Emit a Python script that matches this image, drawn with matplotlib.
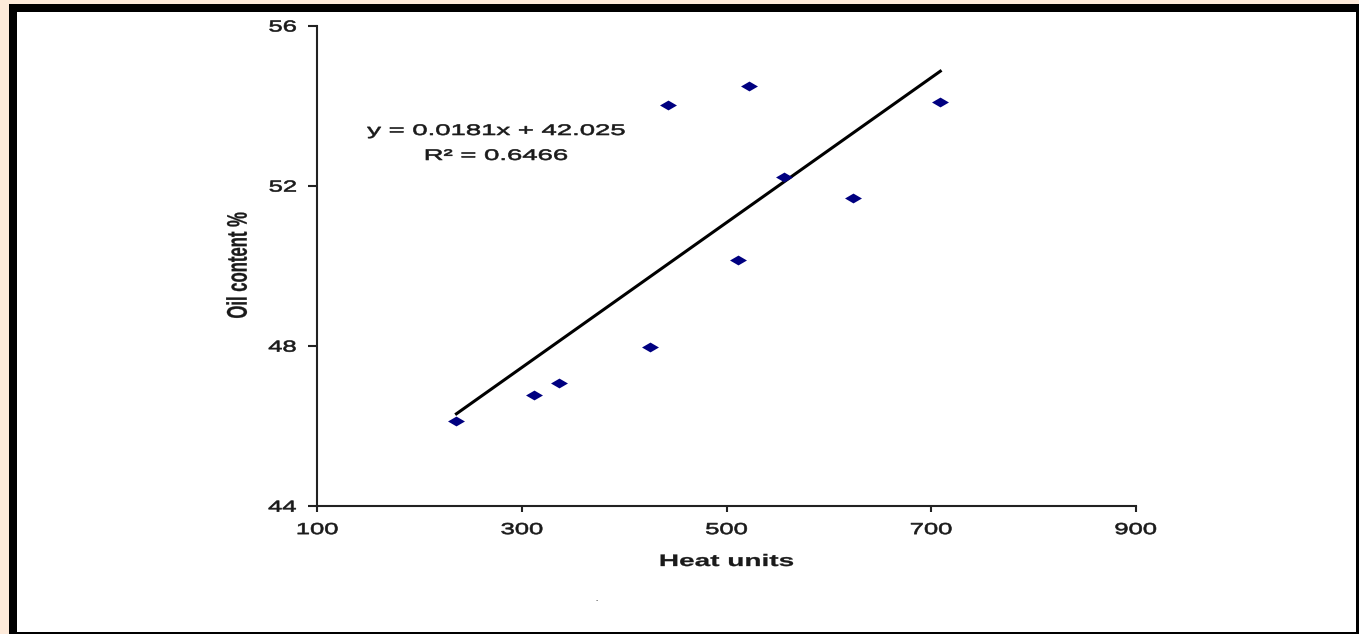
import numpy as np
import matplotlib
matplotlib.use("Agg")
import matplotlib.pyplot as plt
from matplotlib import patheffects
from matplotlib.transforms import Affine2D
from matplotlib.path import Path
from matplotlib.patches import Rectangle

# ---- data ----
heat_units = [236, 312, 336, 425, 443, 511, 522, 556, 624, 709]
oil_content = [46.12, 46.76, 47.06, 47.97, 54.01, 50.15, 54.49, 52.22, 51.70, 54.10]
slope = 0.0181
intercept = 42.025
r_squared = 0.6466
x_ticks = [100, 300, 500, 700, 900]
y_ticks = [44, 48, 52, 56]
x_label = "Heat units"
y_label = "Oil content %"

plt.rcParams['font.family'] = ['Liberation Sans', 'DejaVu Sans']


class HStretch(patheffects.AbstractPathEffect):
    """Widen glyphs horizontally (the reference image is stretched sideways)."""

    def __init__(self, sx=1.6, anchor='center', stroke=0.0):
        super().__init__()
        self.sx = sx
        self.anchor = anchor
        self.stroke = stroke

    def draw_path(self, renderer, gc, tpath, affine, rgbFace=None):
        if tpath.vertices.size == 0:
            return
        ext = affine.transform_path(tpath).get_extents()
        if self.anchor == 'left':
            cx = ext.x0
        elif self.anchor == 'right':
            cx = ext.x1
        else:
            cx = 0.5 * (ext.x0 + ext.x1)
        st = affine + Affine2D().translate(-cx, 0).scale(self.sx, 1).translate(cx, 0)
        gc0 = renderer.new_gc()
        gc0.copy_properties(gc)
        if self.stroke > 0 and rgbFace is not None:
            gc0.set_linewidth(self.stroke)
            gc0.set_foreground(rgbFace)
        renderer.draw_path(gc0, tpath, st, rgbFace)
        gc0.restore()


W, H = 1359, 634
fig = plt.figure(figsize=(W / 100, H / 100), dpi=100)
fig.patch.set_facecolor('#FDEADA')

# black frame and white panel (behind the axes)
fig.patches.append(Rectangle((9 / W, 0), 1 - 9 / W, (634 - 4) / H,
                             transform=fig.transFigure, facecolor='black',
                             edgecolor='none', zorder=-3))
fig.patches.append(Rectangle((17 / W, (634 - 632) / H), (1356 - 17) / W, (632 - 12) / H,
                             transform=fig.transFigure, facecolor='white',
                             edgecolor='none', zorder=-2))

ax_left, ax_right = 317.3, 1135.7
ax_top, ax_bottom = 25.5, 505.7
ax = fig.add_axes([ax_left / W, 1 - ax_bottom / H,
                   (ax_right - ax_left) / W, (ax_bottom - ax_top) / H])
ax.set_facecolor('none')
ax.set_zorder(1)

# diamond marker, wider than tall
diamond = Path([(-1, 0), (0, 0.58), (1, 0), (0, -0.58), (-1, 0)],
               [Path.MOVETO, Path.LINETO, Path.LINETO, Path.LINETO, Path.CLOSEPOLY])
ax.plot(heat_units, oil_content, linestyle='none', marker=diamond,
        markersize=12.2, markerfacecolor='#000080', markeredgewidth=0, zorder=3)

# linear trendline from the stated equation
xs = np.array([min(heat_units), max(heat_units)])
ax.plot(xs, slope * xs + intercept, color='black', linewidth=2.2, zorder=2)

ax.set_xlim(x_ticks[0], x_ticks[-1])
ax.set_ylim(y_ticks[0], y_ticks[-1])
ax.set_xticks(x_ticks)
ax.set_yticks(y_ticks)

for s in ('top', 'right'):
    ax.spines[s].set_visible(False)
for s in ('left', 'bottom'):
    ax.spines[s].set_color('#222222')
    ax.spines[s].set_linewidth(1.5)

ax.tick_params(axis='x', direction='out', length=4.3, width=1.5, color='#222222',
               pad=7.5, labelsize=11.5, labelcolor='#1a1a1a')
ax.tick_params(axis='y', direction='out', length=6.5, width=1.5, color='#222222',
               pad=8.5, labelsize=11.5, labelcolor='#1a1a1a')

for lab in ax.get_xticklabels():
    lab.set_path_effects([HStretch(1.6, 'center', 0.45)])
for lab in ax.get_yticklabels():
    lab.set_path_effects([HStretch(1.6, 'right', 0.45)])

ax.set_xlabel(x_label, fontsize=12, fontweight='bold', color='#1a1a1a')
ax.xaxis.set_label_coords(0.5, -0.1006)
ax.xaxis.label.set_path_effects([HStretch(1.68, 'center', 0.2)])

ax.set_ylabel(y_label, fontsize=12, fontweight='bold', color='#1a1a1a')
ax.yaxis.set_label_coords(-0.0877, 0.5)
ax.yaxis.label.set_path_effects([HStretch(1.7, 'center', 0.2)])

eq = ax.text(0.2184, 0.772, f"y = {slope}x + {intercept}", transform=ax.transAxes,
             ha='center', va='baseline', fontsize=11, color='#1a1a1a')
eq.set_path_effects([HStretch(1.8, 'center', 0.45)])
r2 = ax.text(0.2184, 0.720, f"R\u00b2 = {r_squared}", transform=ax.transAxes,
             ha='center', va='baseline', fontsize=11, color='#1a1a1a')
r2.set_path_effects([HStretch(1.8, 'center', 0.45)])

# small stray mark below the chart in the reference
fig.text(597 / W, 1 - 601 / H, "-", ha='center', va='center', fontsize=5, color='#444444')

fig.savefig("out.png", dpi=100, facecolor=fig.get_facecolor())
